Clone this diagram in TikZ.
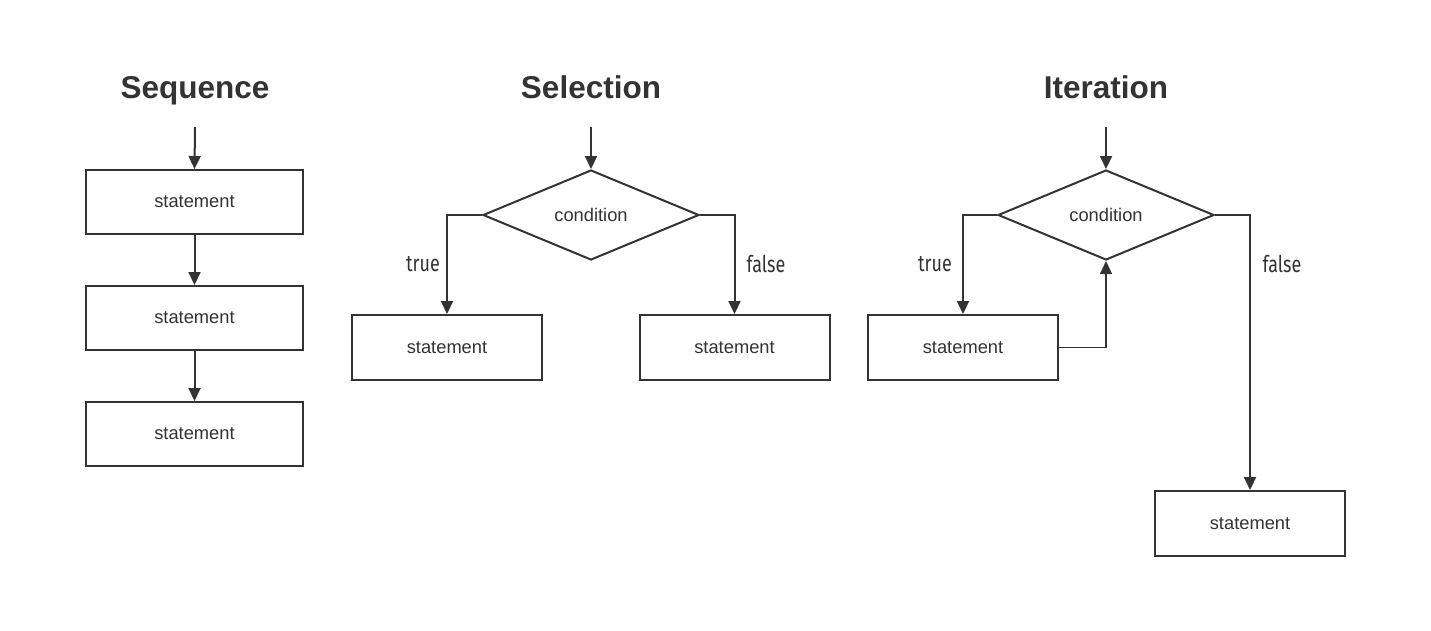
\documentclass[tikz,border=0pt]{standalone}
\usepackage{fontspec}
\setmainfont{Liberation Sans}
\newfontfamily\condfont[FakeStretch=0.78]{Fira Sans}
\usetikzlibrary{arrows.meta,shapes.geometric}
\definecolor{ink}{HTML}{333333}
\begin{document}
\begin{tikzpicture}[x=1pt,y=-1pt,
  ln/.style={draw=ink,line width=2pt},
  thin/.style={draw=ink,line width=1.2pt},
  arr/.style={ln,-{Triangle[length=13pt,width=12pt]}},
  thinarr/.style={thin,-{Triangle[length=13pt,width=12pt]}},
  stmt/.style={ln,rectangle,minimum width=217pt,minimum height=64pt,inner sep=0pt,text=ink,font=\fontsize{18.3}{21}\selectfont},
  stmtb/.style={stmt,minimum width=190pt,minimum height=65pt},
  cond/.style={ln,diamond,aspect=2.4,inner sep=0pt,minimum width=216pt,minimum height=90pt,text=ink,font=\fontsize{18.3}{21}\selectfont},
  title/.style={anchor=base,text=ink,font=\fontsize{31.5}{35}\selectfont\bfseries},
  lbl/.style={text=ink,font=\condfont\fontsize{23}{26}\selectfont}]
\fill[white] (0,0) rectangle (1431,630);
\useasboundingbox (0,0) rectangle (1431,630);
% titles
\node[title] (t1) at (195,98) {Sequence};
\node[title] (t2) at (591,98) {Selection};
\node[title] (t3) at (1106,98) {Iteration};
% Sequence
\coordinate (s0) at (195,127);
\node[stmt] (s1) at (194.5,202) {statement};
\node[stmt] (s2) at (194.5,318) {statement};
\node[stmt] (s3) at (194.5,434) {statement};
\draw[arr] (s0) -- (s1.north);
\draw[arr] (s1) -- (s2);
\draw[arr] (s2) -- (s3);
% Selection
\coordinate (c0) at (591,127);
\node[cond] (d1) at (591,215) {condition};
\node[stmtb] (l1) at (447,347.5) {statement};
\node[stmtb] (r1) at (734.5,347.5) {statement};
\draw[arr] (c0) -- (d1.north);
\draw[arr] (d1.west) -| (l1.north);
\draw[arr] (d1.east) -| (r1.north);
\node[lbl] (tr1) at (423,264) {true};
\node[lbl] (fa1) at (766,264) {false};
% Iteration
\coordinate (c1) at (1106,127);
\node[cond] (d2) at (1106,215) {condition};
\node[stmtb] (l2) at (963,347.5) {statement};
\node[stmtb] (r2) at (1250,523.5) {statement};
\draw[arr] (c1) -- (d2.north);
\draw[arr] (d2.west) -| (l2.north);
\draw[thinarr] (l2.east) -| (d2.south);
\draw[arr] (d2.east) -| (r2.north);
\node[lbl] (tr2) at (935,264) {true};
\node[lbl] (fa2) at (1282,264) {false};
\end{tikzpicture}
\end{document}
